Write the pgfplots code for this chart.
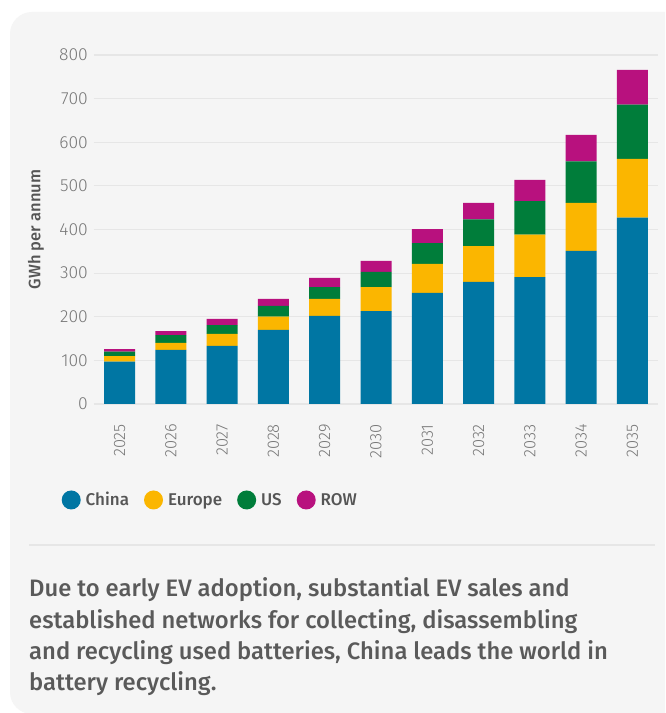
\documentclass[border=0pt]{standalone}
\usepackage{fontspec}
\setmainfont{PT Sans}
\newfontfamily\medfont{Fira Sans Medium}
\newfontfamily\lightfont{Fira Sans Light}
\usepackage{pgfplots}
\pgfplotsset{compat=1.18}
\usepackage{pgfplotstable}
\definecolor{china}{HTML}{0076A3}
\definecolor{europe}{HTML}{FBB600}
\definecolor{us}{HTML}{007D3A}
\definecolor{row}{HTML}{B8117E}
\definecolor{cardbg}{HTML}{F5F5F5}
\definecolor{gridcol}{HTML}{E6E6E6}
\definecolor{tickcol}{HTML}{777777}
\definecolor{labelcol}{HTML}{555555}
\definecolor{captcol}{HTML}{5A5A5A}
\pgfplotstableread{
x China Europe US ROW
0 97 13 10 6
1 124 16 18 9
2 133 28 20 14
3 170 30 25 16
4 202 39 27 21
5 213 55 35 25
6 255 66 48 32
7 280 82 61 38
8 291 97 77 49
9 351 110 95 61
10 427 135 124 80
}\data
\begin{document}
\begin{tikzpicture}[x=1pt,y=1pt]
\useasboundingbox (0,0) rectangle (665,713);
\clip (0,0) rectangle (665,713);
\fill[white] (0,0) rectangle (665,713);
\fill[cardbg, rounded corners=22pt] (10,-1) rectangle (700,701);
\draw[gridcol, line width=1.2pt] (29,168) -- (655,168);
\begin{axis}[
  at={(94pt,309pt)}, anchor=south west,
  scale only axis, width=564pt, height=349pt,
  ybar stacked, bar width=31pt,
  xmin=-0.5, xmax=10.5, ymin=0, ymax=800,
  ytick={0,100,...,800},
  xtick={0,...,10},
  xticklabels={2025,2026,2027,2028,2029,2030,2031,2032,2033,2034,2035},
  axis line style={draw=none},
  major tick length=0pt,
  ymajorgrids, grid style={gridcol, line width=1.2pt},
  /pgf/number format/assume math mode=true,
  y tick label style={font=\lightfont\fontsize{17.5}{20}\selectfont, text=tickcol, inner sep=0pt, xshift=-6pt},
  x tick label style={font=\lightfont\fontsize{16.5}{20}\selectfont, text=tickcol, inner sep=0pt, yshift=-20pt, rotate=90, anchor=east},
  ylabel={GWh per annum},
  every axis y label/.style={at={(axis description cs:-0.1028,0.5)}, rotate=90, anchor=center, font=\medfont\fontsize{16.5}{18}\selectfont, text=labelcol},
  legend columns=4,
  legend style={at={(axis description cs:-0.0576,-0.275)}, anchor=west, draw=none, fill=none, inner sep=0pt,
    font=\medfont\fontsize{17}{20}\selectfont, text=labelcol,
    nodes={inner sep=0pt},
    /tikz/every odd column/.append style={column sep=5pt},
    /tikz/every even column/.append style={column sep=15pt}},
  legend image code/.code={\fill[#1] (9.5pt,0pt) circle (9.5pt);},
  every axis plot/.append style={draw=none},
]
\addplot[fill=china] table[x=x,y=China] {\data};
\addplot[fill=europe] table[x=x,y=Europe] {\data};
\addplot[fill=us] table[x=x,y=US] {\data};
\addplot[fill=row] table[x=x,y=ROW] {\data};
\legend{China,Europe,US,ROW}
\end{axis}
\begin{scope}[every node/.style={anchor=base west, inner sep=0pt, font=\medfont\fontsize{23.8}{31}\selectfont, text=captcol}]
\node at (29,116) {Due to early EV adoption, substantial EV sales and};
\node at (29,84.7) {established networks for collecting, disassembling};
\node at (29,53.4) {and recycling used batteries, China leads the world in};
\node at (29,22) {battery recycling.};
\end{scope}
\end{tikzpicture}
\end{document}
